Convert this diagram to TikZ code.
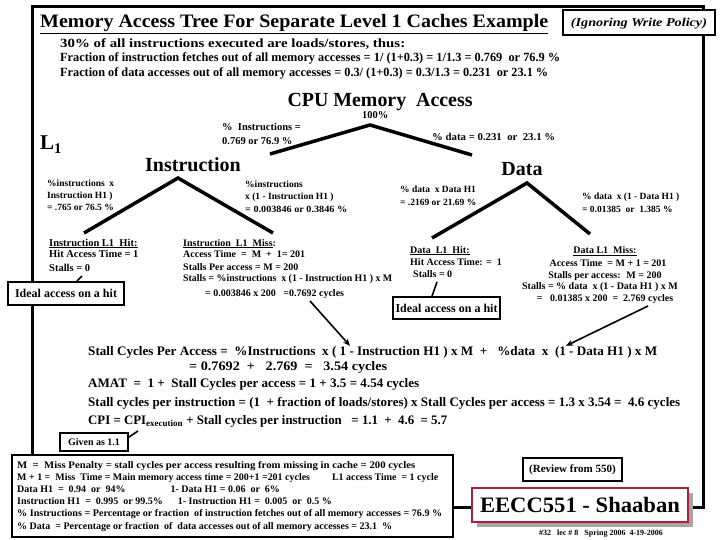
\documentclass[tikz,border=0pt]{standalone}
\usepackage{fontspec}
\setmainfont{Liberation Serif}
\usetikzlibrary{arrows.meta}
\newcommand\fs[1]{\fontsize{#1}{#1}\selectfont}
\newcommand\fw[2]{\resizebox{#1pt}{\height}{#2}}
\definecolor{crim}{RGB}{176,30,60}
\tikzset{
  txt/.style={anchor=base west, inner sep=0pt, font=\bfseries},
  ctxt/.style={anchor=base, inner sep=0pt, font=\bfseries},
  frame/.style={line width=3pt},
  branch/.style={line width=3.5pt},
  tick/.style={line width=1.6pt},
  note/.style={draw, line width=1.8pt, fill=white, inner sep=0pt},
  ptr/.style={line width=1.6pt, -{Stealth[length=7pt,width=6pt]}}
}
\begin{document}
\begin{tikzpicture}[x=1pt,y=-1pt]
\useasboundingbox[fill=white] (0,0) rectangle (720,540);
% frame
\draw[frame] (32,455) -- (32,7) -- (703,7) -- (703,507) -- (688,507);
\draw[frame] (453,507) -- (472,507);
% title
\node[txt] (title) at (40,28) {\fs{19}\fw{508}{\underline{Memory Access Tree For Separate Level 1 Caches Example}}};
\draw[note] (563,10) rectangle (715,35);
\node[ctxt] (ign) at (639,27) {\fs{12}\itshape\fw{136}{(Ignoring Write Policy)}};
% intro
\node[txt] (i1) at (60,48) {\fs{12.5}\fw{345}{30\% of all instructions executed are loads/stores, thus:}};
\node[txt] (i2) at (60,62) {\fs{12.5}\fw{500}{Fraction of instruction fetches out of all memory accesses = 1/ (1+0.3) = 1/1.3 = 0.769~ or 76.9 \%}};
\node[txt] (i3) at (60,77) {\fs{12.5}\fw{488}{Fraction of data accesses out of all memory accesses = 0.3/ (1+0.3) = 0.3/1.3 = 0.231~ or 23.1 \%}};
% root
\node[ctxt] (cpu) at (380,107) {\fs{20}\fw{185}{CPU Memory~ Access}};
\node[txt] (p100) at (362,119) {\fs{10.5}100\%};
\coordinate (r0) at (370,125);
\coordinate (r1) at (270,154);
\coordinate (r2) at (472,155);
\draw[branch] (r1) -- (r0) -- (r2);
\node[txt] (li1) at (222,131) {\fs{10.5}\% ~Instructions =};
\node[txt] (li2) at (222,145) {\fs{10.5}0.769 or 76.9 \%};
\node[txt] (ld1) at (432,141) {\fs{10.5}\fw{123}{\% data = 0.231~ or~ 23.1 \%}};
\node[txt] (L1) at (40,150) {\fs{21}L\textsubscript{1}};
\node[ctxt] (ins) at (193,172) {\fs{20}Instruction};
\node[ctxt] (dat) at (522,176) {\fs{20}Data};
% instruction branches
\coordinate (a0) at (178,178);
\coordinate (a1) at (84,233);
\coordinate (a2) at (273,233);
\draw[branch] (a1) -- (a0) -- (a2);
\node[txt] (il1) at (47,187) {\fs{9.5}\%instructions~ x};
\node[txt] (il2) at (47,199) {\fs{9.5}Instruction H1 )};
\node[txt] (il3) at (47,211) {\fs{9.5}= .765 or 76.5 \%};
\node[txt] (ir1) at (245,188) {\fs{9.5}\%instructions};
\node[txt] (ir2) at (245,200) {\fs{9.5}x (1 - Instruction H1 )};
\node[txt] (ir3) at (245,212) {\fs{9.5}\fw{102}{= 0.003846 or 0.3846 \%}};
% data branches
\coordinate (b0) at (527,183);
\coordinate (b1) at (432,238);
\coordinate (b2) at (590,234);
\draw[branch] (b1) -- (b0) -- (b2);
\node[txt] (dl1) at (400,193) {\fs{9.5}\% data~ x Data H1};
\node[txt] (dl2) at (400,206) {\fs{9.5}= .2169 or 21.69 \%};
\node[txt] (dr1) at (582,200) {\fs{9.5}\% data~ x (1 - Data H1 )};
\node[txt] (dr2) at (582,212) {\fs{9.5}= 0.01385~ or~ 1.385 \%};
% instruction hit
\node[txt] (ih1) at (49,246) {\fs{10.5}\underline{Instruction L1~ Hit:}};
\node[txt] (ih2) at (49,258) {\fs{10.5}Hit Access Time = 1};
\node[txt] (ih3) at (49,271) {\fs{10.5}Stalls = 0};
\node[note, minimum width=116pt, minimum height=23pt] (idl1) at (66,293.5) {\bfseries\fs{12}Ideal access on a hit};
\coordinate (t1) at (82,276);
\draw[tick] (t1) -- (idl1.north -| 77,0);
% instruction miss
\node[txt] (im1) at (183,246) {\fs{10}\underline{Instruction~ L1~ Miss}:};
\node[txt] (im2) at (183,258) {\fs{10}Access Time~ =~ M~ +~ 1= 201};
\node[txt] (im3) at (183,270) {\fs{10}Stalls Per access = M = 200};
\node[txt] (im4) at (183,281) {\fs{10}\fw{209}{Stalls = \%instructions~ x (1 - Instruction H1 ) x M}};
\node[txt] (im5) at (205,296) {\fs{10}= 0.003846 x 200~~ =0.7692 cycles};
% data hit
\node[txt] (dh1) at (410,253) {\fs{10}\underline{Data~ L1~ Hit:}};
\node[txt] (dh2) at (410,265) {\fs{10}Hit Access Time: =~ 1};
\node[txt] (dh3) at (413,277) {\fs{10}Stalls = 0};
\node[note, minimum width=107pt, minimum height=22pt] (idl2) at (446.5,308) {\bfseries\fs{12}Ideal access on a hit};
\coordinate (t2) at (437,282);
\draw[tick] (t2) -- (idl2.north -| 432,0);
% data miss
\node[ctxt] (dm1) at (605,254) {\fs{10}\underline{Data L1~ Miss:}};
\node[ctxt] (dm2) at (608,266) {\fs{10}Access Time~ = M + 1 = 201};
\node[ctxt] (dm3) at (605,278) {\fs{10}Stalls per access:~ M = 200};
\node[ctxt] (dm4) at (600,289) {\fs{10}Stalls = \% data~ x (1 - Data H1 ) x M};
\node[ctxt] (dm5) at (605,301) {\fs{10}=~~ 0.01385 x 200~ =~ 2.769 cycles};
% stall block
\node[txt] (s1) at (88,355) {\fs{13}\fw{569}{Stall Cycles Per Access =~ \%Instructions~ x ( 1 - Instruction H1 ) x M~ +~~ \%data~ x~ (1 - Data H1 ) x M}};
\node[txt] (s2) at (189,370) {\fs{13}\fw{198}{= 0.7692~ +~~ 2.769~ =~~ 3.54 cycles}};
\node[txt] (s3) at (88,387) {\fs{13}\fw{331}{AMAT~ =~ 1 +~ Stall Cycles per access = 1 + 3.5 = 4.54 cycles}};
\node[txt] (s4) at (88,406) {\fs{13}\fw{592}{Stall cycles per instruction = (1~ + fraction of loads/stores) x Stall Cycles per access = 1.3 x 3.54 =~ 4.6 cycles}};
\node[txt] (s5) at (88,424) {\fs{13}\fw{359}{CPI = CPI\textsubscript{execution} + Stall cycles per instruction~~ = 1.1~ +~ 4.6~ = 5.7}};
% arrows
\coordinate (ar1) at (310,301);
\coordinate (ar2) at (648,306);
\draw[ptr] (ar1) -- (s1.north -| 350,0);
\draw[ptr] (ar2) -- (s1.north -| 566,0);
% given
\node[note, minimum width=68pt, minimum height=18pt] (giv) at (94,442) {\bfseries\fs{10}Given as 1.1};
\coordinate (g2) at (138,431);
\draw[tick] (giv.north east) ++(0,5) coordinate (g1);
\draw[tick] (g1) -- (g2);
% bottom box
\draw[line width=2.5pt, fill=white] (12,455) rectangle (453,537);
\node[txt] (k1) at (17,468) {\fs{10}\fw{398}{M~ =~ Miss Penalty = stall cycles per access resulting from missing in cache = 200 cycles}};
\node[txt] (k2) at (17,480) {\fs{10}\fw{421}{M + 1 =~ Miss~ Time = Main memory access time = 200+1 =201 cycles\hspace{22pt}L1 access Time~ = 1 cycle}};
\node[txt] (k3) at (17,492) {\fs{10}Data H1~ =~ 0.94~ or~ 94\%\hspace{45pt}1- Data H1 = 0.06~ or~ 6\%};
\node[txt] (k4) at (17,504) {\fs{10}Instruction H1~ =~ 0.995~ or 99.5\%\hspace{15pt}1- Instruction H1 =~ 0.005~ or~ 0.5 \%};
\node[txt] (k5) at (17,516) {\fs{10}\fw{425}{\% Instructions = Percentage or fraction~ of instruction fetches out of all memory accesses = 76.9 \%}};
\node[txt] (k6) at (17,529) {\fs{10}\fw{375}{\% Data~ = Percentage or fraction~ of~ data accesses out of all memory accesses = 23.1~ \%}};
% review & logo
\node[note, minimum width=99pt, minimum height=23pt] (rev) at (572.5,469.5) {\bfseries\fs{11}(Review from 550)};
\fill[gray!70] (477,493) rectangle (693,527);
\node[draw=crim, line width=1.6pt, fill=white, inner sep=0pt, minimum width=216pt, minimum height=34pt] (logo) at (580,505) {\bfseries\fs{22}\fw{200}{EECC551 - Shaaban}};
\node[ctxt] (foot) at (601,535) {\fs{8}\#32~~ lec \# 8~~ Spring 2006~ 4-19-2006};
\end{tikzpicture}
\end{document}
